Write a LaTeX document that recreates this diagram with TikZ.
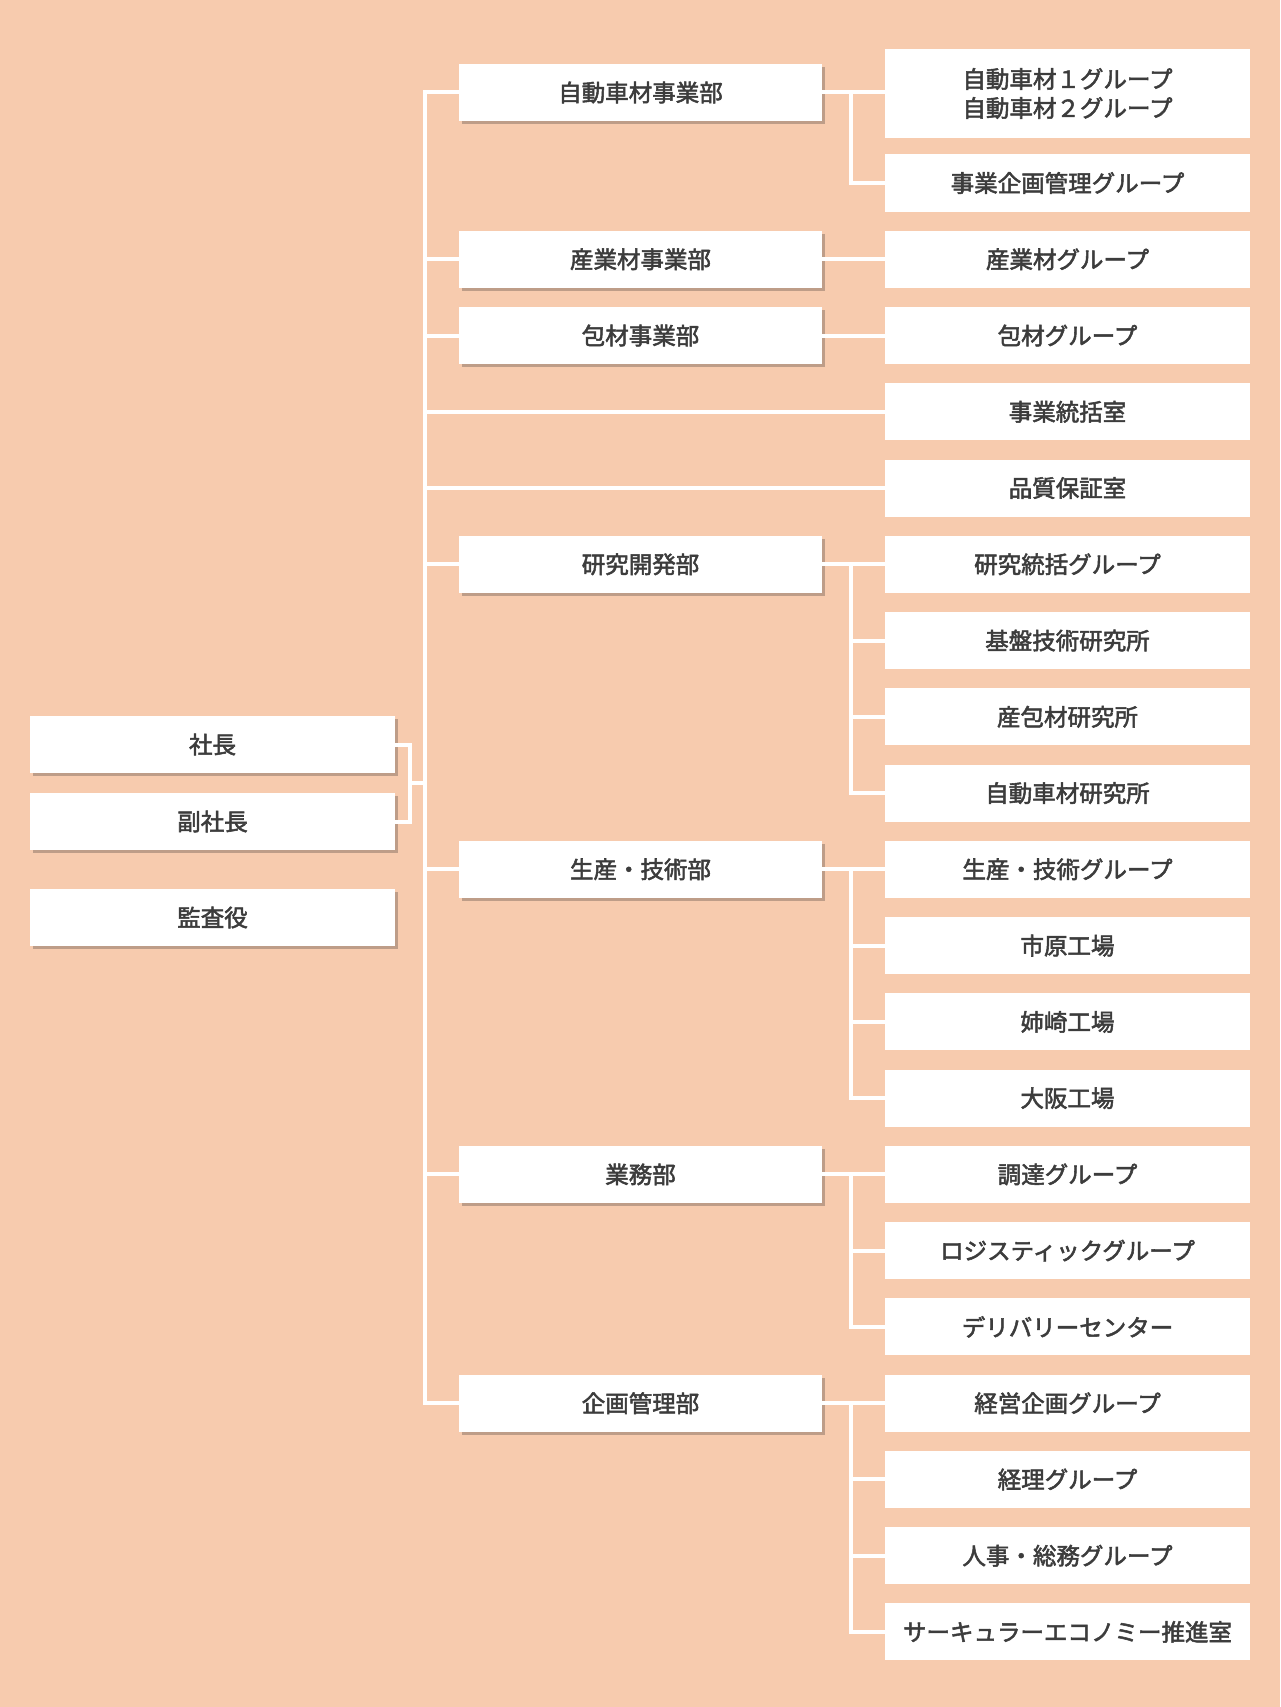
\documentclass[tikz,border=0pt]{standalone}
\usepackage{fontspec}
\setmainfont{Noto Sans CJK JP}[FakeBold=2.2]
\usetikzlibrary{shadows,backgrounds}
\definecolor{bgpeach}{HTML}{F7CBAE}
\definecolor{txtgray}{HTML}{3C3C3C}
\definecolor{shadowc}{HTML}{7A665A}
\tikzset{
  box/.style={rectangle, fill=white, inner sep=0pt, minimum height=57pt,
    text=txtgray, font=\fontsize{23.5}{29}\selectfont, align=center},
  leftbox/.style={box, minimum width=365pt,
    drop shadow={shadow xshift=3pt, shadow yshift=-3pt, fill=shadowc, opacity=0.45}},
  midbox/.style={box, minimum width=363pt,
    drop shadow={shadow xshift=3pt, shadow yshift=-3pt, fill=shadowc, opacity=0.45}},
  rightbox/.style={box, minimum width=365pt},
  conn/.style={draw=white, line width=4pt}
}
\begin{document}
\begin{tikzpicture}[x=1pt, y=-1pt]
\useasboundingbox (0,0) rectangle (1280,1707);
\begin{scope}[on background layer]
\fill[bgpeach] (0,0) rectangle (1280,1707);
\end{scope}

% left column
\node[leftbox] (p)  at (212.5,744.5) {社長};
\node[leftbox] (vp) at (212.5,821.5) {副社長};
\node[leftbox] (au) at (212.5,917.5) {監査役};

% middle column
\node[midbox] (m1) at (640.5,92.5)  {自動車材事業部};
\node[midbox] (m2) at (640.5,259.3) {産業材事業部};
\node[midbox] (m3) at (640.5,335.5) {包材事業部};
\node[midbox] (m4) at (640.5,564.3) {研究開発部};
\node[midbox] (m5) at (640.5,869.3) {生産・技術部};
\node[midbox] (m6) at (640.5,1174.4) {業務部};
\node[midbox] (m7) at (640.5,1403.2) {企画管理部};

% right column
\node[rightbox, minimum height=89pt] (ra) at (1067.5,93.5) {自動車材１グループ\\自動車材２グループ};
\node[rightbox] (r0)  at (1067.5,183.0)  {事業企画管理グループ};
\node[rightbox] (r1)  at (1067.5,259.3)  {産業材グループ};
\node[rightbox] (r2)  at (1067.5,335.5)  {包材グループ};
\node[rightbox] (r3)  at (1067.5,411.8)  {事業統括室};
\node[rightbox] (r4)  at (1067.5,488.0)  {品質保証室};
\node[rightbox] (r5)  at (1067.5,564.3)  {研究統括グループ};
\node[rightbox] (r6)  at (1067.5,640.6)  {基盤技術研究所};
\node[rightbox] (r7)  at (1067.5,716.8)  {産包材研究所};
\node[rightbox] (r8)  at (1067.5,793.1)  {自動車材研究所};
\node[rightbox] (r9)  at (1067.5,869.3)  {生産・技術グループ};
\node[rightbox] (r10) at (1067.5,945.6)  {市原工場};
\node[rightbox] (r11) at (1067.5,1021.9) {姉崎工場};
\node[rightbox] (r12) at (1067.5,1098.1) {大阪工場};
\node[rightbox] (r13) at (1067.5,1174.4) {調達グループ};
\node[rightbox] (r14) at (1067.5,1250.6) {ロジスティックグループ};
\node[rightbox] (r15) at (1067.5,1326.9) {デリバリーセンター};
\node[rightbox] (r16) at (1067.5,1403.2) {経営企画グループ};
\node[rightbox] (r17) at (1067.5,1479.4) {経理グループ};
\node[rightbox] (r18) at (1067.5,1555.7) {人事・総務グループ};
\node[rightbox] (r19) at (1067.5,1631.9) {サーキュラーエコノミー推進室};

% helper coordinates
\coordinate (trunk) at (425,0);
\coordinate (sub) at (851,0);
\coordinate (lj) at (409.5,0);

% left junction
\draw[conn] (p.east) -- (p.east -| lj) -- (vp.east -| lj) -- (vp.east);
\draw[conn] (lj |- 0,783) -- (trunk |- 0,783);

% main trunk
\draw[conn] (m1.west) -- (m1.west -| trunk) -- (m7.west -| trunk) -- (m7.west);
\foreach \m in {m2,m3,m4,m5,m6}
  \draw[conn] (\m.west -| trunk) -- (\m.west);
\draw[conn] (r3.west -| trunk) -- (r3.west);
\draw[conn] (r4.west -| trunk) -- (r4.west);

% 自動車材事業部
\draw[conn] (m1.east) -- (m1.east -| ra.west);
\draw[conn] (m1.east -| sub) -- (r0.west -| sub) -- (r0.west);
% 産業材 / 包材
\draw[conn] (m2.east) -- (r1.west);
\draw[conn] (m3.east) -- (r2.west);
% 研究開発部
\draw[conn] (m4.east) -- (r5.west);
\draw[conn] (r5.west -| sub) -- (r8.west -| sub) -- (r8.west);
\draw[conn] (r6.west -| sub) -- (r6.west);
\draw[conn] (r7.west -| sub) -- (r7.west);
% 生産・技術部
\draw[conn] (m5.east) -- (r9.west);
\draw[conn] (r9.west -| sub) -- (r12.west -| sub) -- (r12.west);
\draw[conn] (r10.west -| sub) -- (r10.west);
\draw[conn] (r11.west -| sub) -- (r11.west);
% 業務部
\draw[conn] (m6.east) -- (r13.west);
\draw[conn] (r13.west -| sub) -- (r15.west -| sub) -- (r15.west);
\draw[conn] (r14.west -| sub) -- (r14.west);
% 企画管理部
\draw[conn] (m7.east) -- (r16.west);
\draw[conn] (r16.west -| sub) -- (r19.west -| sub) -- (r19.west);
\draw[conn] (r17.west -| sub) -- (r17.west);
\draw[conn] (r18.west -| sub) -- (r18.west);
\end{tikzpicture}
\end{document}
